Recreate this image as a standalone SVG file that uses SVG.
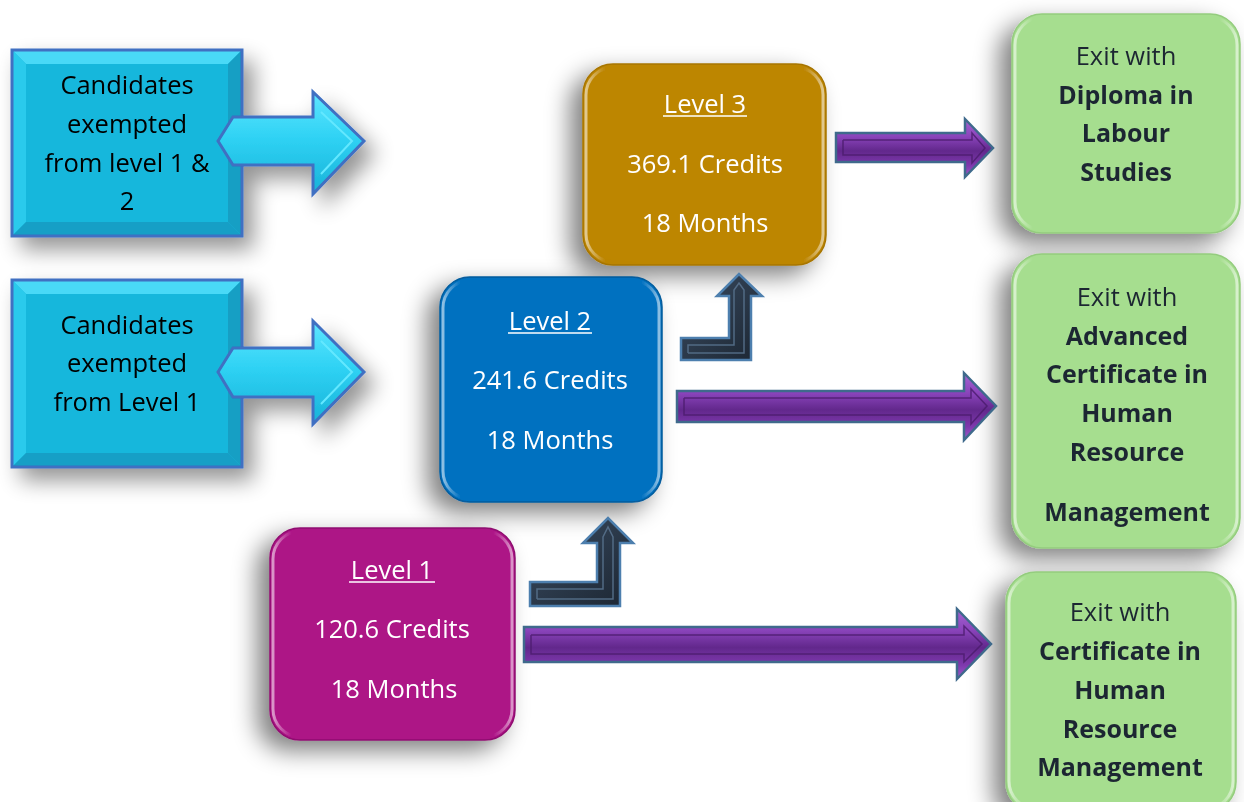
<svg xmlns="http://www.w3.org/2000/svg" width="1244" height="802" viewBox="0 0 1244 802">
  <defs>
    <style>
      .t { font-family: "Open Sans", "Liberation Sans", sans-serif; font-size: 25.5px; text-anchor: middle; dominant-baseline: central; }
      .dark { fill: #000; }
      .white { fill: #fff; }
      .green-t { fill: #1e2833; }
      .bold { font-weight: 700; font-size: 25px; }
      .ul { stroke: #fff; stroke-width: 1.6; }
      .cyan-edge { stroke: #3f6fc2; stroke-width: 3; stroke-linejoin: miter; }
      .purple { fill: url(#gPurple); stroke: #3f6a8c; stroke-width: 2.5; stroke-linejoin: miter; }
      .purple-in { fill: none; stroke: #4a1c6c; stroke-width: 1.5; opacity: 0.8; }
      .slate { fill: url(#gSlate); stroke: #4d7fae; stroke-width: 2.5; stroke-linejoin: miter; }
      .slate-in { fill: none; stroke: #56708c; stroke-width: 1.5; opacity: 0.9; }
      .gloss { fill: none; stroke: url(#gGloss); stroke-width: 3; }
    </style>
    <filter id="shadowL" x="-40%" y="-40%" width="180%" height="180%">
      <feGaussianBlur in="SourceAlpha" stdDeviation="12"/>
      <feOffset dx="-12" dy="10" result="b"/>
      <feComponentTransfer><feFuncA type="linear" slope="0.5"/></feComponentTransfer>
      <feMerge><feMergeNode/><feMergeNode in="SourceGraphic"/></feMerge>
    </filter>
    <filter id="shadowR" x="-40%" y="-40%" width="180%" height="180%">
      <feGaussianBlur in="SourceAlpha" stdDeviation="11"/>
      <feOffset dx="10" dy="12" result="b"/>
      <feComponentTransfer><feFuncA type="linear" slope="0.42"/></feComponentTransfer>
      <feMerge><feMergeNode/><feMergeNode in="SourceGraphic"/></feMerge>
    </filter>
    <linearGradient id="gCyanArrow" x1="0" y1="0" x2="0" y2="1">
      <stop offset="0" stop-color="#5fe6ff"/>
      <stop offset="0.45" stop-color="#2fd2f4"/>
      <stop offset="1" stop-color="#18b2d8"/>
    </linearGradient>
    <linearGradient id="gPurple" x1="0" y1="0" x2="0" y2="1">
      <stop offset="0" stop-color="#a564d2"/>
      <stop offset="0.3" stop-color="#8a44bb"/>
      <stop offset="0.55" stop-color="#62288c"/>
      <stop offset="0.8" stop-color="#7e38ad"/>
      <stop offset="1" stop-color="#9e5cca"/>
    </linearGradient>
    <linearGradient id="gSlate" x1="0" y1="0" x2="1" y2="1">
      <stop offset="0" stop-color="#3a4c62"/>
      <stop offset="1" stop-color="#1c2632"/>
    </linearGradient>
    <linearGradient id="gGloss" x1="0" y1="0" x2="1" y2="0">
      <stop offset="0" stop-color="#fff" stop-opacity="0.55"/>
      <stop offset="0.08" stop-color="#fff" stop-opacity="0"/>
      <stop offset="0.92" stop-color="#fff" stop-opacity="0"/>
      <stop offset="1" stop-color="#fff" stop-opacity="0.55"/>
    </linearGradient>
  </defs>

  <rect width="1244" height="802" fill="#fff"/>

  <!-- exempted from level 1 & 2 -->
  <g id="exempt-1-2" filter="url(#shadowR)">
    <rect x="12" y="50" width="230" height="186" fill="#19b7dc"/>
    <polygon points="12,50 242,50 228,64 26,64" fill="#4ad9f7"/>
    <polygon points="12,50 26,64 26,222 12,236" fill="#2ccaec"/>
    <polygon points="242,50 242,236 228,222 228,64" fill="#129fc4"/>
    <polygon points="12,236 26,222 228,222 242,236" fill="#139fc6"/>
    <rect x="12" y="50" width="230" height="186" fill="none" class="cyan-edge"/>
    <polygon points="218,141 233,117 313,117 313,92 364,141 313,194 313,165 233,165" fill="url(#gCyanArrow)" class="cyan-edge"/>
    <polyline points="321,112 352,141 321,174" fill="none" stroke="#64e8ff" stroke-width="2"/>
    <text class="t dark" x="127" y="84">Candidates</text>
    <text class="t dark" x="127" y="123">exempted</text>
    <text class="t dark" x="127" y="162">from level 1 &amp;</text>
    <text class="t dark" x="127" y="200">2</text>
  </g>

  <!-- exempted from level 1 -->
  <g id="exempt-1" filter="url(#shadowR)">
    <rect x="12" y="280" width="230" height="187" fill="#19b7dc"/>
    <polygon points="12,280 242,280 228,294 26,294" fill="#4ad9f7"/>
    <polygon points="12,280 26,294 26,453 12,467" fill="#2ccaec"/>
    <polygon points="242,280 242,467 228,453 228,294" fill="#129fc4"/>
    <polygon points="12,467 26,453 228,453 242,467" fill="#139fc6"/>
    <rect x="12" y="280" width="230" height="187" fill="none" class="cyan-edge"/>
    <polygon points="218,372 233,348 313,348 313,321 364,372 313,424 313,397 233,397" fill="url(#gCyanArrow)" class="cyan-edge"/>
    <polyline points="321,341 352,372 321,404" fill="none" stroke="#64e8ff" stroke-width="2"/>
    <text class="t dark" x="127" y="324">Candidates</text>
    <text class="t dark" x="127" y="362">exempted</text>
    <text class="t dark" x="127" y="401">from Level 1</text>
  </g>

  <!-- Level 3 -->
  <g id="level-3" filter="url(#shadowL)">
    <rect x="583" y="64" width="243" height="201" rx="30" fill="#bd8606" stroke="#a77505" stroke-width="1.5"/>
    <rect x="586" y="67" width="237" height="195" rx="28" class="gloss"/>
    <text class="t white" x="705" y="103">Level 3</text>
    <line class="ul" x1="663" y1="116" x2="747" y2="116"/>
    <text class="t white" x="705" y="163">369.1 Credits</text>
    <text class="t white" x="705" y="222">18 Months</text>
  </g>

  <!-- Level 2 -->
  <g id="level-2" filter="url(#shadowL)">
    <rect x="440" y="277" width="222" height="225" rx="30" fill="#0271c0" stroke="#075c9c" stroke-width="1.5"/>
    <rect x="443" y="280" width="216" height="219" rx="28" class="gloss"/>
    <text class="t white" x="550" y="320">Level 2</text>
    <line class="ul" x1="508" y1="333" x2="592" y2="333"/>
    <text class="t white" x="550" y="379">241.6 Credits</text>
    <text class="t white" x="550" y="439">18 Months</text>
  </g>

  <!-- Level 1 -->
  <g id="level-1" filter="url(#shadowL)">
    <rect x="270" y="528" width="245" height="212" rx="30" fill="#ad1386" stroke="#8f0f70" stroke-width="1.5"/>
    <rect x="273" y="531" width="239" height="206" rx="28" class="gloss"/>
    <text class="t white" x="392" y="569">Level 1</text>
    <line class="ul" x1="349" y1="582" x2="435" y2="582"/>
    <text class="t white" x="392" y="628">120.6 Credits</text>
    <text class="t white" x="394" y="688">18 Months</text>
  </g>

  <!-- Diploma exit -->
  <g id="exit-diploma" filter="url(#shadowL)">
    <rect x="1012" y="14" width="228" height="219" rx="30" fill="#a6de8f" stroke="#94cc7e" stroke-width="1.5"/>
    <rect x="1015" y="17" width="222" height="213" rx="28" class="gloss"/>
    <text class="t green-t" x="1126" y="55">Exit with</text>
    <text class="t green-t bold" x="1126" y="94">Diploma in</text>
    <text class="t green-t bold" x="1126" y="132">Labour</text>
    <text class="t green-t bold" x="1126" y="171">Studies</text>
  </g>

  <!-- Advanced certificate exit -->
  <g id="exit-advanced" filter="url(#shadowL)">
    <rect x="1012" y="254" width="228" height="294" rx="30" fill="#a6de8f" stroke="#94cc7e" stroke-width="1.5"/>
    <rect x="1015" y="257" width="222" height="288" rx="28" class="gloss"/>
    <text class="t green-t" x="1127" y="296">Exit with</text>
    <text class="t green-t bold" x="1127" y="335">Advanced</text>
    <text class="t green-t bold" x="1127" y="373">Certificate in</text>
    <text class="t green-t bold" x="1127" y="412">Human</text>
    <text class="t green-t bold" x="1127" y="451">Resource</text>
    <text class="t green-t bold" x="1127" y="511">Management</text>
  </g>

  <!-- Certificate exit -->
  <g id="exit-certificate" filter="url(#shadowL)">
    <rect x="1006" y="572" width="230" height="240" rx="30" fill="#a6de8f" stroke="#94cc7e" stroke-width="1.5"/>
    <rect x="1009" y="575" width="224" height="234" rx="28" class="gloss"/>
    <text class="t green-t" x="1120" y="611">Exit with</text>
    <text class="t green-t bold" x="1120" y="650">Certificate in</text>
    <text class="t green-t bold" x="1120" y="689">Human</text>
    <text class="t green-t bold" x="1120" y="728">Resource</text>
    <text class="t green-t bold" x="1120" y="766">Management</text>
  </g>

  <!-- connectors -->
  <g id="connectors">
    <!-- Level 1 up to Level 2 -->
    <polygon class="slate" points="530,606 620,606 620,543 633,543 608,518 583,543 597,543 597,582 530,582"/>
    <polyline class="slate-in" points="537,599 613,599 613,537 608,527 603,537 603,589 537,589 537,599"/>
    <!-- Level 2 up to Level 3 -->
    <polygon class="slate" points="681,360 751,360 751,296 762,296 739,274 717,296 729,296 729,338 681,338"/>
    <polyline class="slate-in" points="688,353 744,353 744,290 739,283 734,290 734,345 688,345 688,353"/>
    <!-- Level 3 to diploma -->
    <polygon class="purple" points="836,133 965,133 965,119 993,148 965,177 965,162 836,162"/>
    <polyline class="purple-in" points="843,140 972,140 972,133 985,148 972,163 972,155 843,155 843,140"/>
    <!-- Level 2 to advanced certificate -->
    <polygon class="purple" points="677,391 964,391 964,373 996,406 964,440 964,422 677,422"/>
    <polyline class="purple-in" points="684,398 971,398 971,389 987,406 971,424 971,415 684,415 684,398"/>
    <!-- Level 1 to certificate -->
    <polygon class="purple" points="524,627 957,627 957,609 991,644 957,679 957,662 524,662"/>
    <polyline class="purple-in" points="531,635 964,635 964,626 982,644 964,662 964,654 531,654 531,635"/>
  </g>
</svg>
